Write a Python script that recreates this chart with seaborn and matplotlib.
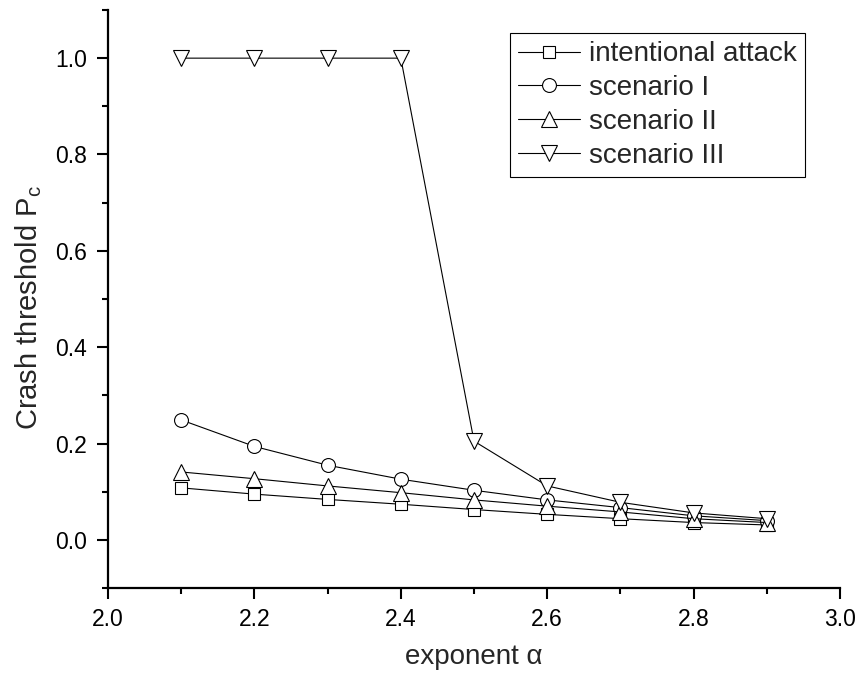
import matplotlib
matplotlib.use('Agg')
import matplotlib.pyplot as plt
from matplotlib.ticker import MultipleLocator
import seaborn as sns
import pandas as pd

# data
exponent = [2.1, 2.2, 2.3, 2.4, 2.5, 2.6, 2.7, 2.8, 2.9]
intentional_attack = [0.108, 0.095, 0.084, 0.074, 0.063, 0.053, 0.044, 0.036, 0.031]
scenario_1 = [0.249, 0.194, 0.155, 0.126, 0.103, 0.083, 0.067, 0.050, 0.040]
scenario_2 = [0.141, 0.127, 0.112, 0.098, 0.083, 0.070, 0.058, 0.044, 0.036]
scenario_3 = [1.0, 1.0, 1.0, 1.0, 0.205, 0.112, 0.078, 0.056, 0.044]

series = [
    ('intentional attack', intentional_attack, 's', 8.6),
    ('scenario I', scenario_1, 'o', 10),
    ('scenario II', scenario_2, '^', 12),
    ('scenario III', scenario_3, 'v', 12),
]

sns.set_style('ticks')
plt.rcParams['font.family'] = ['Liberation Sans', 'DejaVu Sans']
plt.rcParams['mathtext.fontset'] = 'custom'
plt.rcParams['mathtext.rm'] = 'Liberation Sans'

fig = plt.figure(figsize=(8.62, 6.83), dpi=100)
ax = fig.add_axes([0.1253, 0.139, 0.8492, 0.8464])

for name, vals, mk, ms in series:
    df = pd.DataFrame({'x': exponent, 'y': vals})
    sns.lineplot(data=df, x='x', y='y', ax=ax, color='black', linewidth=0.8,
                 marker=mk, markersize=ms, markerfacecolor='white',
                 markeredgecolor='black', markeredgewidth=0.8, label=name)

ax.set_xlim(2.0, 3.0)
ax.set_ylim(-0.1, 1.1)
ax.xaxis.set_minor_locator(MultipleLocator(0.1))
ax.yaxis.set_minor_locator(MultipleLocator(0.1))
ax.set_xticks([2.0, 2.2, 2.4, 2.6, 2.8, 3.0])
ax.set_yticks([0.0, 0.2, 0.4, 0.6, 0.8, 1.0])
ax.set_xticklabels(['2.0', '2.2', '2.4', '2.6', '2.8', '3.0'])
ax.set_yticklabels(['0.0', '0.2', '0.4', '0.6', '0.8', '1.0'])

sns.despine(ax=ax)
for s in ['left', 'bottom']:
    ax.spines[s].set_linewidth(1.6)
    ax.spines[s].set_color('black')
ax.tick_params(which='major', direction='out', length=8, width=1.5,
               labelsize=16.5, colors='black', pad=6)
ax.tick_params(axis='y', which='major', pad=7)
ax.tick_params(which='minor', direction='out', length=4, width=1.5, colors='black')

ax.set_xlabel('exponent α', fontsize=20, labelpad=10)
ax.set_ylabel(r'Crash threshold P$_\mathregular{c}$', fontsize=21)
ax.yaxis.set_label_coords(-0.088, 0.485)

leg = ax.legend(loc='upper right', bbox_to_anchor=(0.952, 0.960), borderaxespad=0,
                fontsize=20, frameon=True, fancybox=False, shadow=False,
                handlelength=2.25, handletextpad=0.3, borderpad=0.3,
                labelspacing=0.28)
leg.get_frame().set_edgecolor('black')
leg.get_frame().set_linewidth(0.8)
leg.get_frame().set_alpha(1)

fig.savefig('out.png', dpi=100)
